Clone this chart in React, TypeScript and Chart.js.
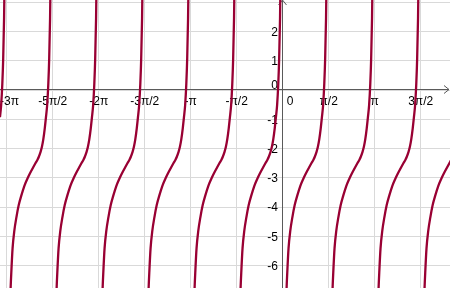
import React, { useEffect, useRef } from "react";
import { Chart, registerables } from "chart.js";

Chart.register(...registerables);

// Axis ticks (x in radians, labelled in multiples of π/2)
const xTickValues = [-9.425, -7.854, -6.283, -4.712, -3.142, -1.571, 0, 1.571, 3.142, 4.712];
const xTickLabels = ["-3π", "-5π/2", "-2π", "-3π/2", "-π", "-π/2", "0", "π/2", "π", "3π/2"];
const yTickValues = [-6, -5, -4, -3, -2, -1, 0, 1, 2, 3];
const yTickLabels = ["-6", "-5", "-4", "-3", "-2", "-1", "0", "1", "2", ""];

// Visible window
const xMin = -9.655;
const xMax = 5.714;
const yMin = -6.762;
const yMax = 3.074;

// Left asymptote of every branch
const branchStarts = [-10.996, -9.425, -7.854, -6.283, -4.712, -3.142, -1.571, 0, 1.571, 3.142, 4.712];
// One branch: offset from its left asymptote, and value
const branchDx = [0.01, 0.03, 0.06, 0.1, 0.13, 0.16, 0.2, 0.26, 0.33, 0.41, 0.5, 0.6, 0.72, 0.85, 0.98, 1.05, 1.1, 1.15, 1.2, 1.25, 1.3, 1.34, 1.38, 1.42, 1.45, 1.48, 1.5, 1.52, 1.54, 1.555, 1.565];
const branchY = [-53, -19.7, -11.3, -7.9, -6.85, -6.15, -5.4, -4.8, -4.35, -3.93, -3.6, -3.28, -3.0, -2.74, -2.5, -2.38, -2.27, -2.13, -1.95, -1.68, -1.3, -0.93, -0.52, 0.21, 1.07, 2.44, 4.02, 6.8, 13.2, 28.6, 83];

const curveColor = "#990033";

const axesPlugin = {
  id: "ggbAxes",
  beforeDatasetsDraw(chart: any) {
    const { ctx, chartArea: a, scales } = chart;
    const xs = scales.x;
    const ys = scales.y;
    const x0 = Math.floor(xs.getPixelForValue(0)) + 0.5;
    const y0 = Math.floor(ys.getPixelForValue(0) - 0.5) + 0.5;
    ctx.save();
    ctx.strokeStyle = "#5a5a5a";
    ctx.lineWidth = 1;
    ctx.beginPath();
    ctx.moveTo(a.left, y0);
    ctx.lineTo(a.right - 1, y0);
    ctx.moveTo(x0, a.bottom);
    ctx.lineTo(x0, a.top);
    ctx.moveTo(a.right - 6, y0 - 4);
    ctx.lineTo(a.right - 1, y0);
    ctx.lineTo(a.right - 6, y0 + 4);
    ctx.moveTo(x0 - 4, a.top + 5);
    ctx.lineTo(x0, a.top);
    ctx.lineTo(x0 + 4, a.top + 5);
    ctx.stroke();

    ctx.fillStyle = "#000";
    ctx.font = '12px "Liberation Sans", Arial, sans-serif';
    ctx.textAlign = "center";
    ctx.textBaseline = "top";
    xTickValues.forEach((v, i) => {
      const label = xTickLabels[i];
      let px = xs.getPixelForValue(v);
      if (v === 0) px += 7.5;
      const w = ctx.measureText(label).width;
      px = Math.max(px, a.left + w / 2);
      px = Math.min(px, a.right - w / 2);
      ctx.fillText(label, px, y0 + 6);
    });
    ctx.textAlign = "right";
    ctx.textBaseline = "middle";
    yTickValues.forEach((v, i) => {
      const label = yTickLabels[i];
      if (!label) return;
      let py = ys.getPixelForValue(v) + 1;
      if (v === 0) py -= 5.5;
      ctx.fillText(label, x0 - 4.5, py);
    });
    ctx.restore();
  },
};

export default function App() {
  const canvasRef = useRef<HTMLCanvasElement | null>(null);

  useEffect(() => {
    const canvas = canvasRef.current;
    if (!canvas) return;
    const datasets = branchStarts.map((s) => ({
      data: branchDx.map((d, i) => ({ x: s + d, y: branchY[i] })),
      showLine: true,
      borderColor: curveColor,
      backgroundColor: curveColor,
      borderWidth: 2.3,
      pointRadius: 0,
      cubicInterpolationMode: "monotone" as const,
      fill: false,
    }));
    const chart = new Chart(canvas, {
      type: "scatter",
      data: { datasets },
      options: {
        animation: false,
        responsive: false,
        layout: { padding: 0 },
        plugins: { legend: { display: false }, tooltip: { enabled: false } },
        events: [],
        scales: {
          x: {
            type: "linear",
            min: xMin,
            max: xMax,
            afterBuildTicks: (scale: any) => {
              scale.ticks = xTickValues.map((v) => ({ value: v }));
            },
            ticks: { display: false },
            grid: { color: "#d9d9d9", drawTicks: false, lineWidth: 1 },
            border: { display: false },
          },
          y: {
            type: "linear",
            min: yMin,
            max: yMax,
            afterBuildTicks: (scale: any) => {
              scale.ticks = yTickValues.map((v) => ({ value: v }));
            },
            ticks: { display: false },
            grid: { color: "#d9d9d9", drawTicks: false, lineWidth: 1 },
            border: { display: false },
          },
        },
      },
      plugins: [axesPlugin],
    });
    return () => chart.destroy();
  }, []);

  return (
    <div style={{ position: "fixed", left: 0, top: 0, width: 450, height: 288, background: "#fff" }}>
      <canvas ref={canvasRef} width={450} height={288} style={{ display: "block" }} />
    </div>
  );
}
